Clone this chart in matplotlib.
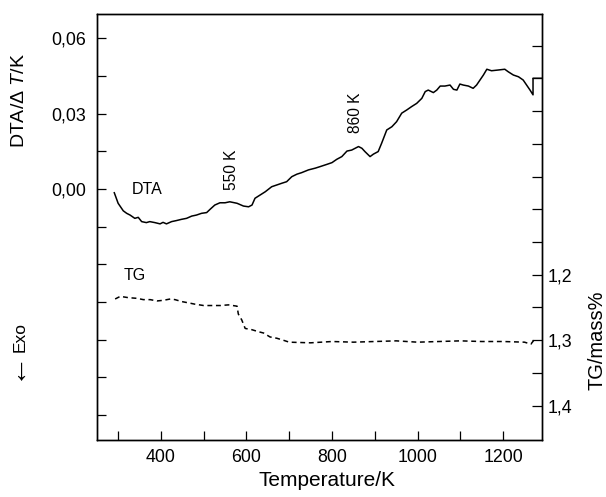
import matplotlib
matplotlib.use('Agg')
import matplotlib.pyplot as plt
from matplotlib.ticker import MultipleLocator, FixedLocator, FuncFormatter

plt.rcParams['font.family'] = ['Liberation Sans', 'DejaVu Sans']
plt.rcParams['mathtext.fontset'] = 'custom'
plt.rcParams['mathtext.rm'] = 'Liberation Sans'
plt.rcParams['mathtext.it'] = 'Liberation Sans:italic'

# DTA curve (temperature / K, DTA / dT/K)
dta_temp = [291, 300, 312, 320, 328, 339, 347, 355, 366, 374, 386, 398, 405, 413,
            425, 436, 448, 460, 472, 483, 495, 507, 515, 526, 538, 550, 561, 578,
            593, 605, 613, 620, 632, 644, 659, 671, 683, 694, 706, 718, 729, 745,
            761, 772, 788, 800, 811, 823, 835, 846, 854, 862, 870, 877, 889, 897,
            908, 916, 928, 940, 951, 963, 975, 986, 998, 1010, 1018, 1025, 1037,
            1045, 1053, 1064, 1076, 1084, 1092, 1099, 1107, 1119, 1130, 1138,
            1146, 1154, 1162, 1173, 1189, 1204, 1212, 1224, 1236, 1247, 1255,
            1263, 1270, 1270, 1295]
dta_val = [-0.0015, -0.0057, -0.0087, -0.0097, -0.0104, -0.0117, -0.0113, -0.0130,
           -0.0134, -0.0130, -0.0134, -0.0139, -0.0133, -0.0139, -0.0130, -0.0126,
           -0.0121, -0.0117, -0.0108, -0.0104, -0.0097, -0.0094, -0.0081, -0.0064,
           -0.0055, -0.0055, -0.0051, -0.0057, -0.0068, -0.0071, -0.0064, -0.0037,
           -0.0024, -0.0011, 0.0009, 0.0016, 0.0023, 0.0029, 0.0049, 0.0059,
           0.0065, 0.0076, 0.0083, 0.0089, 0.0098, 0.0105, 0.0118, 0.0129, 0.0151,
           0.0155, 0.0162, 0.0169, 0.0162, 0.0149, 0.0129, 0.0139, 0.0149, 0.0182,
           0.0235, 0.0248, 0.0268, 0.0302, 0.0315, 0.0328, 0.0341, 0.0361, 0.0388,
           0.0394, 0.0384, 0.0394, 0.0410, 0.0410, 0.0414, 0.0397, 0.0394, 0.0418,
           0.0414, 0.0410, 0.0401, 0.0414, 0.0434, 0.0454, 0.0477, 0.0471, 0.0474,
           0.0477, 0.0467, 0.0454, 0.0447, 0.0434, 0.0414, 0.0394, 0.0375, 0.0441,
           0.0441]

# TG curve (temperature / K, mass %)
tg_temp = [293, 305, 324, 344, 359, 375, 391, 406, 422, 433, 449, 465, 480, 500,
           519, 539, 558, 578, 581, 589, 597, 613, 628, 640, 655, 671, 686, 700,
           750, 800, 850, 900, 950, 1000, 1050, 1100, 1150, 1200, 1250, 1265, 1272]
tg_val = [1.237, 1.233, 1.235, 1.236, 1.238, 1.238, 1.240, 1.239, 1.237, 1.238,
          1.241, 1.243, 1.245, 1.247, 1.247, 1.247, 1.246, 1.248, 1.260, 1.269,
          1.282, 1.284, 1.287, 1.289, 1.295, 1.297, 1.300, 1.303, 1.304, 1.302,
          1.303, 1.302, 1.301, 1.303, 1.302, 1.301, 1.302, 1.302, 1.303, 1.306,
          1.300]

fig = plt.figure(figsize=(6.06, 4.97), dpi=100)
ax = fig.add_axes([0.160, 0.1147, 0.7344, 0.8571])
ax2 = ax.twinx()

ax.plot(dta_temp, dta_val, color='black', lw=1.1)
ax2.plot(tg_temp, tg_val, color='black', lw=1.1, linestyle=(0, (3.2, 2.4)))

ax.set_xlim(250.5, 1291)
ax.set_ylim(-0.1, 0.0697)
ax2.set_ylim(1.4525, 0.8015)

comma = FuncFormatter(lambda v, p: ('%.2f' % v).replace('.', ','))
ax.yaxis.set_major_locator(FixedLocator([0.0, 0.03, 0.06]))
ax.yaxis.set_major_formatter(comma)
ax.yaxis.set_minor_locator(FixedLocator([0.045, 0.015, -0.015, -0.03, -0.045,
                                         -0.06, -0.075, -0.09]))
ax.xaxis.set_major_locator(MultipleLocator(200))
ax.xaxis.set_minor_locator(MultipleLocator(100))

ax2.yaxis.set_major_locator(FixedLocator([1.2, 1.3, 1.4]))
ax2.yaxis.set_major_formatter(FuncFormatter(lambda v, p: ('%.1f' % v).replace('.', ',')))
ax2.yaxis.set_minor_locator(FixedLocator([0.85, 0.9, 0.95, 1.0, 1.05, 1.1, 1.15,
                                          1.25, 1.35]))

for a in (ax, ax2):
    for s in a.spines.values():
        s.set_linewidth(1.0)
ax.tick_params(axis='both', which='both', direction='in', length=6.5, width=0.9,
               labelsize=12.8, top=False, right=False)
ax.tick_params(axis='y', which='major', pad=8)
ax.tick_params(axis='x', which='major', pad=6.5)
ax2.tick_params(axis='y', which='both', direction='in', length=7, width=0.9,
                labelsize=12.8, pad=4)

ax.text(0.518, -0.096, 'Temperature/K', transform=ax.transAxes, fontsize=15,
        ha='center', va='center')
ax.text(-0.175, 0.798, 'DTA/\u0394 $\\mathit{T}$/K', transform=ax.transAxes,
        fontsize=14, rotation=90, ha='center', va='center')
ax.text(-0.173, 0.242, 'Exo', transform=ax.transAxes, fontsize=12.5,
        rotation=90, ha='center', va='center')
ax.text(-0.186, 0.176, '\u2190', transform=ax.transAxes, fontsize=22,
        rotation=90, ha='center', va='center')
ax.text(1.124, 0.235, 'TG/mass%', transform=ax.transAxes, fontsize=14.4,
        rotation=90, ha='center', va='center')

ax.text(367, -0.0004, 'DTA', fontsize=11.5, ha='center', va='center')
ax.text(566, 0.0076, '550 K', fontsize=11.2, rotation=90, ha='center', va='center')
ax.text(856, 0.0303, '860 K', fontsize=11.2, rotation=90, ha='center', va='center')
ax2.text(340, 1.2015, 'TG', fontsize=11.5, ha='center', va='center')

fig.savefig('out.png', dpi=100)
